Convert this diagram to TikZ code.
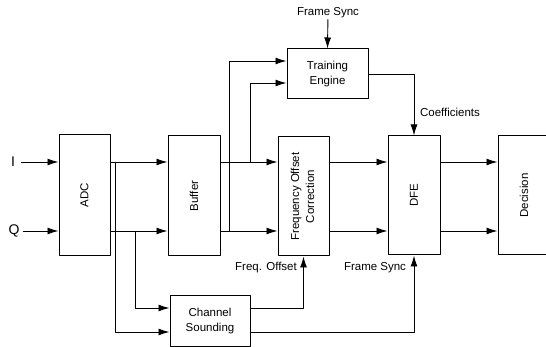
\documentclass[tikz,border=0pt]{standalone}
\usepackage{fontspec}
\setmainfont{Liberation Sans}
\usepackage{graphicx}
\usetikzlibrary{calc,arrows.meta,positioning}

\begin{document}
\begin{tikzpicture}[x=1pt, y=-1pt, line join=round,
    blk/.style={draw, line width=1pt, inner sep=0pt,
                font=\fontsize{11.5}{15}\selectfont},
    sig/.style={line width=0.9pt, -{Latex[length=11pt,width=7pt]}},
    lbl/.style={font=\fontsize{11.5}{14}\selectfont, inner sep=1pt},
    iq/.style={font=\fontsize{14}{16}\selectfont, inner sep=1pt}]

% ---------------------------------------------------------
% Canvas (pixel grid, y downwards)
% ---------------------------------------------------------
\clip (0,0) rectangle (546,347);

% ---------------------------------------------------------
% Parameters
% ---------------------------------------------------------
\pgfmathsetmacro{\yI}{162}        % I rail
\pgfmathsetmacro{\yQ}{231}        % Q rail

\coordinate (rowI) at (0,\yI);
\coordinate (rowQ) at (0,\yQ);

% ---------------------------------------------------------
% Blocks
% ---------------------------------------------------------
\node[blk, minimum width=51pt, minimum height=121pt] (adc) at (84.5,195.5)
    {\rotatebox{90}{ADC}};
\node[blk, minimum width=52pt, minimum height=120pt] (buf) at (194,196)
    {\rotatebox{90}{Buffer}};
\node[blk, minimum width=51pt, minimum height=119pt] (foc) at (303.5,196.5)
    {\rotatebox{90}{\begin{tabular}{@{}c@{}}Frequency Offset\\Correction\end{tabular}}};
\node[blk, minimum width=81pt, minimum height=50pt, align=center] (te) at (327.5,74)
    {Training\\Engine};
\node[blk, minimum width=52pt, minimum height=119pt] (dfe) at (414,195.5)
    {\rotatebox{90}{DFE}};
\node[blk, minimum width=52pt, minimum height=119pt] (dec) at (524,195.5)
    {\rotatebox{90}{Decision}};
\node[blk, minimum width=80pt, minimum height=50pt, align=center] (cs) at (210,321)
    {Channel\\Sounding};

% ---------------------------------------------------------
% Labels
% ---------------------------------------------------------
\node[iq] (ilab) at (13,\yI) {I};
\node[iq] (qlab) at (14,\yQ) {Q};
\node[lbl] (fsync) at (328,13) {Frame Sync};
\node[lbl] (fsync2) at (375,268) {Frame Sync};
\node[lbl] (foff) at (266,268) {Freq. Offset};
\node[lbl] (coef) at (450,112) {Coefficients};

% ---------------------------------------------------------
% Inputs
% ---------------------------------------------------------
\draw[sig] ([xshift=5pt]ilab.east) -- (adc.west |- rowI);
\draw[sig] ([xshift=2pt]qlab.east) -- (adc.west |- rowQ);

% ---------------------------------------------------------
% Main I/Q path
% ---------------------------------------------------------
\foreach \a/\b in {adc/buf, buf/foc, foc/dfe, dfe/dec}
  \foreach \r in {rowI, rowQ}
    \draw[sig] (\a.east |- \r) -- (\b.west |- \r);

% ---------------------------------------------------------
% Branches
% ---------------------------------------------------------
\coordinate (tapI)  at (115,\yI);   % ADC I out
\coordinate (tapQ)  at (135,\yQ);   % ADC Q out
\coordinate (tapB1) at (250,\yI);   % Buffer I out
\coordinate (tapB2) at (229,\yQ);   % Buffer Q out

\draw[sig] (tapI)  |- ($(cs.west)+(0,11)$);
\draw[sig] (tapQ)  |- ($(cs.west)+(0,-13)$);
\draw[sig] (tapB1) |- ($(te.west)+(0,9)$);
\draw[sig] (tapB2) |- ($(te.west)+(0,-13)$);

% ---------------------------------------------------------
% Control signals
% ---------------------------------------------------------
\draw[sig] (fsync) -- (te.north);
\draw[sig] (te.east) -| (dfe.north);
\draw[sig] ($(cs.east)+(0,-13)$) -| (foc.south);
\draw[sig] ($(cs.east)+(0,11)$) -| (dfe.south);

\end{tikzpicture}
\end{document}
